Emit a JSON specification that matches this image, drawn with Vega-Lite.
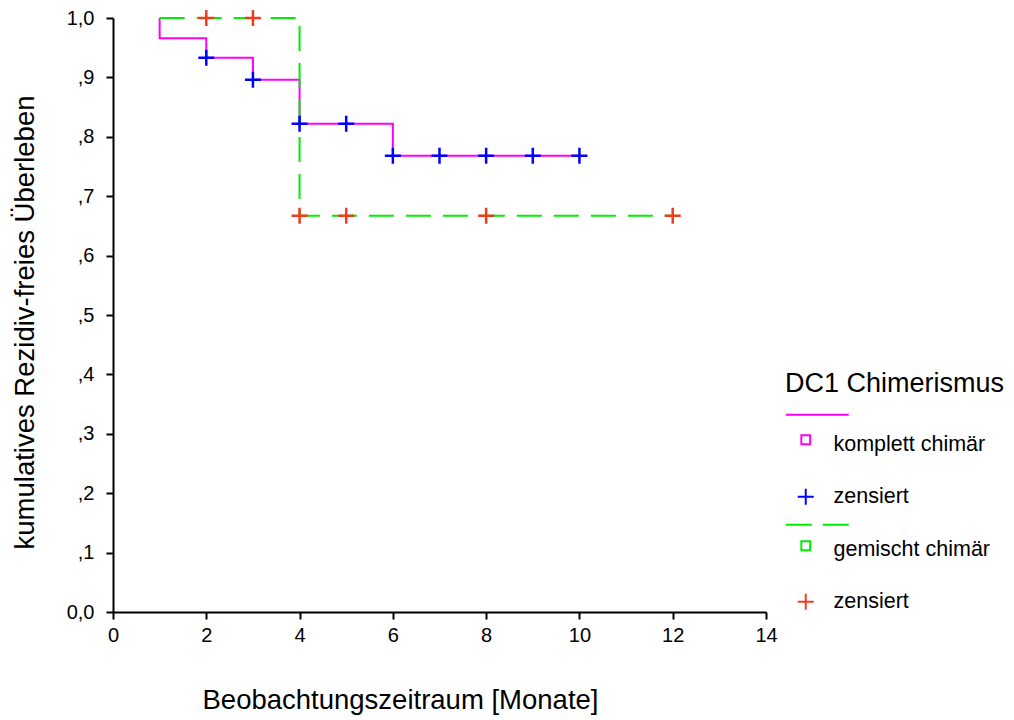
{
  "$schema": "https://vega.github.io/schema/vega-lite/v6.json",
  "width": 653,
  "height": 594,
  "autosize": {"type": "none"},
  "padding": {"left": 113, "top": 18, "right": 248, "bottom": 108},
  "background": "white",
  "config": {
    "view": {"stroke": null},
    "font": "Liberation Sans, Arial, sans-serif",
    "axis": {
      "domainColor": "black",
      "domainWidth": 2,
      "tickColor": "black",
      "tickWidth": 2,
      "tickSize": 7,
      "labelColor": "black",
      "labelFontSize": 20,
      "labelFlush": false,
      "labelOverlap": false,
      "titleFontSize": 27.5,
      "titleFontWeight": "normal",
      "titleColor": "black",
      "grid": false
    }
  },
  "datasets": {
    "curves": [
      {"gruppe": "komplett", "ord": 0, "monat": 1, "ueberleben": 1.0},
      {"gruppe": "komplett", "ord": 1, "monat": 1, "ueberleben": 0.966},
      {"gruppe": "komplett", "ord": 2, "monat": 2, "ueberleben": 0.933},
      {"gruppe": "komplett", "ord": 3, "monat": 3, "ueberleben": 0.896},
      {"gruppe": "komplett", "ord": 4, "monat": 4, "ueberleben": 0.822},
      {"gruppe": "komplett", "ord": 5, "monat": 6, "ueberleben": 0.768},
      {"gruppe": "komplett", "ord": 6, "monat": 10, "ueberleben": 0.768},
      {"gruppe": "gemischt", "ord": 0, "monat": 1, "ueberleben": 1.0},
      {"gruppe": "gemischt", "ord": 1, "monat": 4, "ueberleben": 0.667},
      {"gruppe": "gemischt", "ord": 2, "monat": 12, "ueberleben": 0.667}
    ],
    "censored": [
      {"leg": "kz", "monat": 2, "ueberleben": 0.933},
      {"leg": "kz", "monat": 3, "ueberleben": 0.896},
      {"leg": "kz", "monat": 4, "ueberleben": 0.822},
      {"leg": "kz", "monat": 5, "ueberleben": 0.822},
      {"leg": "kz", "monat": 6, "ueberleben": 0.768},
      {"leg": "kz", "monat": 7, "ueberleben": 0.768},
      {"leg": "kz", "monat": 8, "ueberleben": 0.768},
      {"leg": "kz", "monat": 9, "ueberleben": 0.768},
      {"leg": "kz", "monat": 10, "ueberleben": 0.768},
      {"leg": "gz", "monat": 2, "ueberleben": 1.0},
      {"leg": "gz", "monat": 3, "ueberleben": 1.0},
      {"leg": "gz", "monat": 4, "ueberleben": 0.667},
      {"leg": "gz", "monat": 5, "ueberleben": 0.667},
      {"leg": "gz", "monat": 8, "ueberleben": 0.667},
      {"leg": "gz", "monat": 12, "ueberleben": 0.667}
    ]
  },
  "layer": [
    {
      "data": {"name": "curves"},
      "transform": [{"filter": "datum.gruppe == 'komplett'"}],
      "mark": {"type": "line", "interpolate": "step-after", "color": "#FF00FF", "strokeWidth": 2},
      "encoding": {
        "x": {
          "field": "monat", "type": "quantitative",
          "scale": {"domain": [0, 14], "nice": false, "zero": false},
          "axis": {
            "values": [0, 2, 4, 6, 8, 10, 12, 14],
            "labelPadding": 6,
            "title": "Beobachtungszeitraum [Monate]",
            "titleX": 287,
            "titleY": 96,
            "titleAlign": "center",
            "titleBaseline": "alphabetic"
          }
        },
        "y": {
          "field": "ueberleben", "type": "quantitative",
          "scale": {"domain": [0, 1], "nice": false},
          "axis": {
            "values": [0, 0.1, 0.2, 0.3, 0.4, 0.5, 0.6, 0.7, 0.8, 0.9, 1.0],
            "labelExpr": "datum.value == 0 ? '0,0' : (datum.value == 1 ? '1,0' : ',' + round(datum.value * 10))",
            "labelPadding": 12,
            "title": "kumulatives Rezidiv-freies Überleben",
            "titleX": -88,
            "titleY": 304,
            "titleAngle": 270,
            "titleAlign": "center",
            "titleBaseline": "middle"
          }
        },
        "order": {"field": "ord", "type": "quantitative"}
      }
    },
    {
      "data": {"name": "curves"},
      "transform": [{"filter": "datum.gruppe == 'gemischt'"}],
      "mark": {"type": "line", "interpolate": "step-after", "color": "#00EE00", "strokeWidth": 2, "strokeDash": [25, 12]},
      "encoding": {
        "x": {"field": "monat", "type": "quantitative"},
        "y": {"field": "ueberleben", "type": "quantitative"},
        "order": {"field": "ord", "type": "quantitative"}
      }
    },
    {
      "data": {"name": "censored"},
      "mark": {"type": "point", "filled": false, "size": 256, "strokeWidth": 2.5, "opacity": 1},
      "encoding": {
        "x": {"field": "monat", "type": "quantitative"},
        "y": {"field": "ueberleben", "type": "quantitative"},
        "color": {
          "field": "leg", "type": "nominal",
          "scale": {"domain": ["k", "kz", "g", "gz"], "range": ["#FF00FF", "#0000FF", "#00EE00", "#F03C1E"]},
          "legend": {
            "title": "DC1 Chimerismus",
            "orient": "none",
            "legendX": 672,
            "legendY": 353,
            "padding": 0,
            "symbolOffset": 10,
            "symbolSize": 256,
            "symbolStrokeWidth": 2,
            "titleFontSize": 27,
            "titleFontWeight": "normal",
            "titleColor": "black",
            "titleLimit": 400,
            "titlePadding": 36,
            "labelFontSize": 21.5,
            "labelColor": "black",
            "labelLimit": 300,
            "labelOffset": 17,
            "rowPadding": 6,
            "labelExpr": "datum.value == 'k' ? 'komplett chimär' : (datum.value == 'g' ? 'gemischt chimär' : 'zensiert')"
          }
        },
        "shape": {
          "field": "leg", "type": "nominal",
          "scale": {
            "domain": ["k", "kz", "g", "gz"],
            "range": [
              "M-2.5,-3.75H5.375M-0.55,-1.175H0.55V-0.075H-0.55Z",
              "M-2.5,-3.75M-1,0H1M0,-1V1",
              "M-2.5,-3.75M-2.5,-3.125H0.75M2.125,-3.125H5.375M-0.55,-1.05H0.55V0.05H-0.55Z",
              "M-2.5,-3.75M-1,0H1M0,-1V1"
            ]
          }
        }
      }
    }
  ]
}
